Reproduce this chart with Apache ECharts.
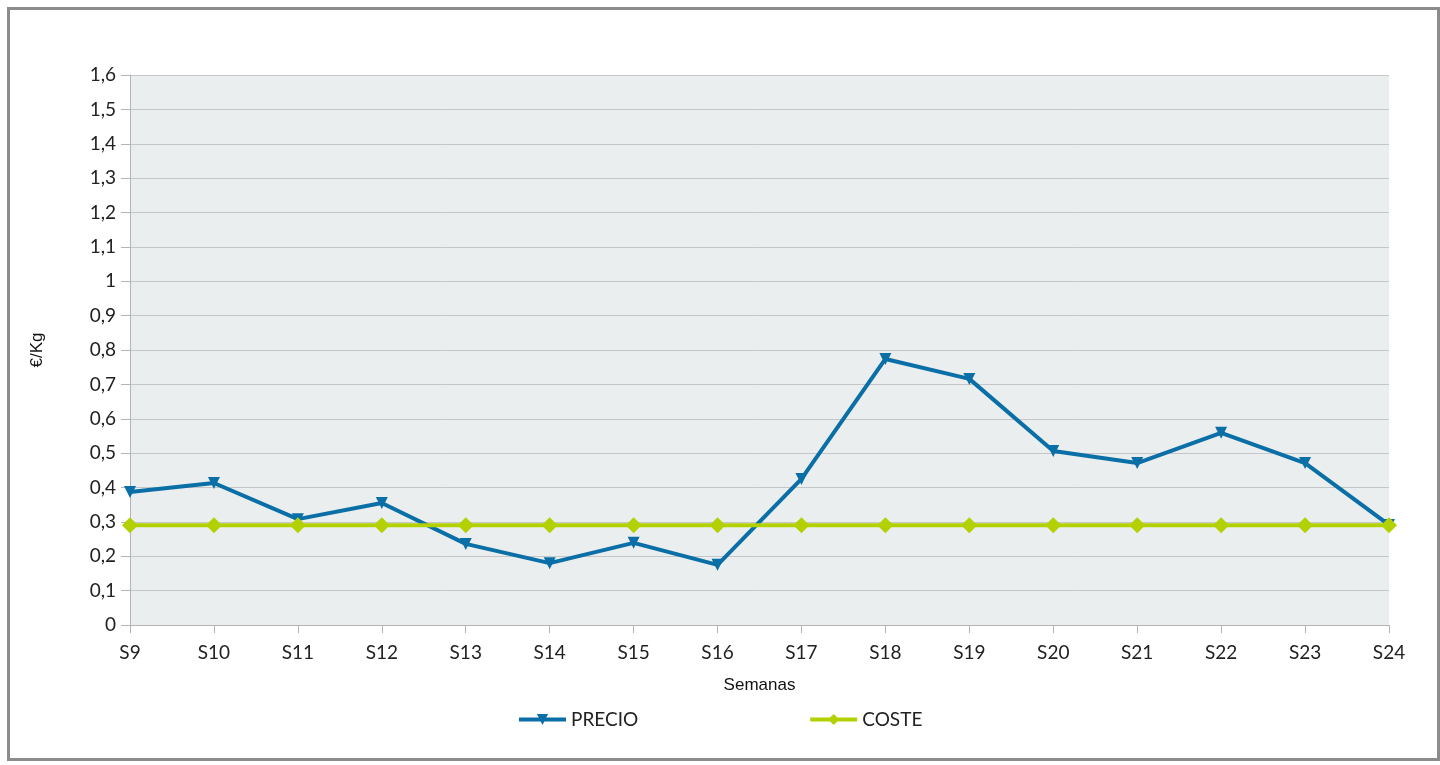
<!DOCTYPE html>
<html>
<head>
<meta charset="utf-8">
<script src="https://cdn.jsdelivr.net/npm/echarts@6/dist/echarts.min.js"></script>
<style>
  html, body { margin: 0; padding: 0; background: #fff; }
  #main { width: 1440px; height: 765px; }
</style>
</head>
<body>
<div id="main"></div>
<script type="text/javascript">
    // datos
    var semanas = ['S9', 'S10', 'S11', 'S12', 'S13', 'S14', 'S15', 'S16', 'S17', 'S18', 'S19', 'S20', 'S21', 'S22', 'S23', 'S24'];
    var precio = [0.387, 0.413, 0.308, 0.355, 0.236, 0.180, 0.239, 0.175, 0.425, 0.774, 0.716, 0.506, 0.471, 0.559, 0.471, 0.291];
    var coste = [0.29, 0.29, 0.29, 0.29, 0.29, 0.29, 0.29, 0.29, 0.29, 0.29, 0.29, 0.29, 0.29, 0.29, 0.29, 0.29];

    var labelFont = 'Lato, "DejaVu Sans", sans-serif';

    var myChart = echarts.init(document.getElementById('main'));

    var option = {
        animation: false,
        graphic: [{
            type: 'rect',
            left: 6, top: 6,
            shape: { width: 1430, height: 751 },
            style: { fill: 'none', stroke: '#8c8c8c', lineWidth: 3 },
            z: 100
        }],
        grid: {
            left: 130, right: 51, top: 75, bottom: 140,
            show: true,
            backgroundColor: '#eaeeef',
            borderWidth: 0
        },
        legend: {
            bottom: 31,
            left: 512,
            itemWidth: 47,
            itemHeight: 14,
            itemGap: 170,
            lineStyle: { width: 4 },
            textStyle: { fontFamily: labelFont, fontSize: 19, color: '#222' },
            data: ['PRECIO', 'COSTE']
        },
        xAxis: {
            type: 'category',
            data: semanas,
            boundaryGap: false,
            name: 'Semanas',
            nameLocation: 'middle',
            nameGap: 52,
            nameTextStyle: { fontFamily: '"Liberation Sans", Arial, sans-serif', fontSize: 17, color: '#111' },
            axisLine: { lineStyle: { color: '#b4b4b4', width: 1 } },
            axisTick: { show: true, length: 8, lineStyle: { color: '#b4b4b4' } },
            axisLabel: { fontFamily: labelFont, fontSize: 19, color: '#222', margin: 18 },
            splitLine: { show: false }
        },
        yAxis: {
            type: 'value',
            min: 0, max: 1.6, interval: 0.1,
            name: '€/Kg',
            nameLocation: 'middle',
            nameGap: 84,
            nameRotate: 90,
            nameTextStyle: { fontFamily: '"Liberation Sans", Arial, sans-serif', fontSize: 17, color: '#111' },
            axisLine: { show: true, lineStyle: { color: '#b4b4b4', width: 1 } },
            axisTick: { show: true, length: 9, lineStyle: { color: '#b4b4b4' } },
            axisLabel: {
                fontFamily: labelFont, fontSize: 19, color: '#222', margin: 14,
                formatter: function (v) { return String(Math.round(v * 10) / 10).replace('.', ','); }
            },
            splitLine: { show: true, lineStyle: { color: '#c4c6c8', width: 1 } }
        },
        series: [{
            name: 'PRECIO',
            type: 'line',
            data: precio,
            symbol: 'triangle',
            symbolRotate: 180,
            symbolSize: 12,
            lineStyle: { color: '#0a6fa6', width: 4 },
            itemStyle: { color: '#0a6fa6' },
            z: 3
        }, {
            name: 'COSTE',
            type: 'line',
            data: coste,
            symbol: 'diamond',
            symbolSize: 16,
            lineStyle: { color: '#b3d100', width: 4 },
            itemStyle: { color: '#b3d100' },
            z: 4
        }]
    };

    myChart.setOption(option);
</script>
</body>
</html>
